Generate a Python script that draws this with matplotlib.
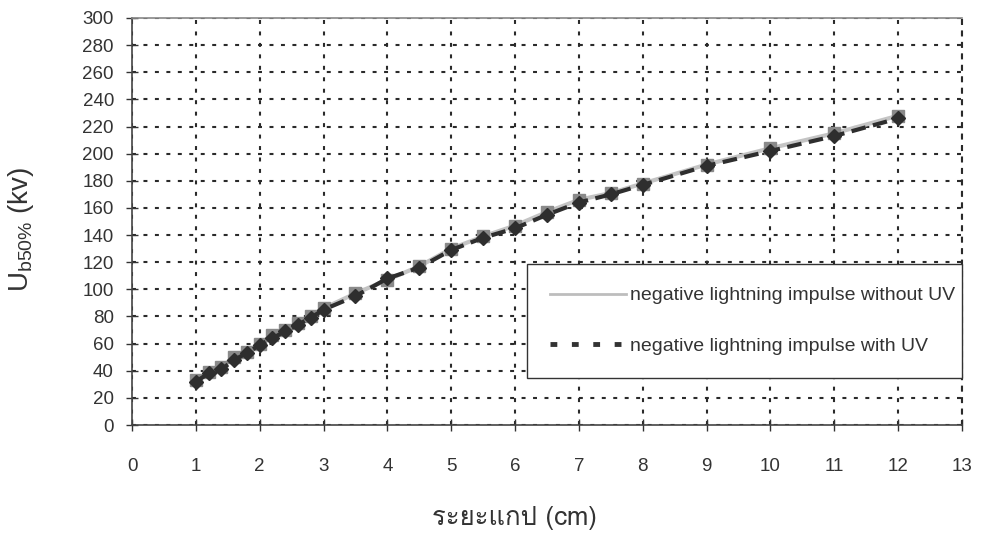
import numpy as np
import matplotlib
matplotlib.use('Agg')
import matplotlib.pyplot as plt
from matplotlib import font_manager
from matplotlib.ft2font import FT2Font
from matplotlib.lines import Line2D

# gap distance (cm) and 50% breakdown voltage (kV)
gap = [1, 1.2, 1.4, 1.6, 1.8, 2, 2.2, 2.4, 2.6, 2.8, 3, 3.5, 4, 4.5, 5, 5.5,
       6, 6.5, 7, 7.5, 8, 9, 10, 11, 12]
u_without_uv = [33, 39, 43, 50, 54, 60, 66, 70, 75, 80, 86, 97, 107, 117, 130, 139,
                147, 157, 166, 171, 178, 192, 204, 215, 228]
u_with_uv = [32, 38, 41, 48, 53, 59, 64, 69, 74, 79, 85, 95, 108, 116, 129, 138,
             145, 155, 164, 170, 177, 191, 202, 213, 226]
labels = ['negative lightning impulse without UV', 'negative lightning impulse with UV']
x_ticks = list(range(0, 14))
y_ticks = list(range(0, 301, 20))

# look for any installed font that has Thai glyphs
thai_font = None
for f in font_manager.fontManager.ttflist:
    try:
        if ord('ร') in FT2Font(f.fname).get_charmap():
            thai_font = f.name
            break
    except Exception:
        pass

plt.rcParams['font.family'] = ['Liberation Sans', 'DejaVu Sans']
plt.rcParams['mathtext.fontset'] = 'custom'
plt.rcParams['mathtext.rm'] = 'Liberation Sans'

fig = plt.figure(figsize=(9.81, 5.34), dpi=100)
ax = fig.add_axes([132/981, 109/534, 830/981, 407/534])

ax.plot(gap, u_without_uv, color='#c4c4c4', lw=3, marker='s', ms=8.5,
        mfc='#8a8a8a', mec='#8a8a8a', zorder=3)
ax.plot(gap, u_with_uv, color='#2e2e2e', lw=3, ls=(0, (3.5, 1.8)), marker='D', ms=7,
        mfc='#2e2e2e', mec='#2e2e2e', zorder=4)

ax.set_xlim(0, 13)
ax.set_ylim(0, 300)
ax.set_xticks(x_ticks)
ax.set_yticks(y_ticks)
ax.grid(True, color='#2a2a2a', lw=1.5, ls=(0, (1.9, 3.6)))
ax.set_axisbelow(True)

ax.tick_params(axis='x', direction='inout', length=9, width=1, pad=19, labelsize=13.5,
               colors='#333333')
ax.tick_params(axis='y', direction='inout', length=8, width=1, pad=9, labelsize=13.5,
               colors='#333333')
for s in ['left', 'bottom']:
    ax.spines[s].set_color('#444444')
    ax.spines[s].set_linewidth(1.2)
ax.spines['top'].set_color('#888888')
ax.spines['top'].set_linewidth(1.2)
ax.spines['right'].set_color('#2a2a2a')
ax.spines['right'].set_linewidth(1.5)
ax.spines['right'].set_linestyle((0, (1.9, 3.6)))

ax.set_ylabel(r'U$_{\mathrm{b50\%}}$ (kv)', fontsize=20, color='#333333')
ax.yaxis.set_label_coords(-0.116, 0.48)
xl_family = [thai_font, 'Liberation Sans'] if thai_font else ['Liberation Sans', 'DejaVu Sans']
ax.set_xlabel('ระยะแกป (cm)', fontsize=18.5, color='#333333', family=xl_family)
ax.xaxis.set_label_coords(0.461, -0.2)

handles = [Line2D([], [], color='#bdbdbd', lw=2),
           Line2D([], [], color='#333333', lw=3.5, ls=(0, (1.4, 3)))]
leg = ax.legend(handles, labels, loc='center', mode='expand',
                bbox_to_anchor=(0.476, 0.118, 0.524, 0.275), fontsize=14,
                handlelength=3.9, handletextpad=0.2, borderpad=1.2, labelspacing=1.7,
                borderaxespad=0, frameon=True, fancybox=False, edgecolor='#333333',
                framealpha=1)
leg.get_frame().set_linewidth(1)
for t in leg.get_texts():
    t.set_color('#333333')

fig.savefig('out.png', dpi=100, facecolor='white')
